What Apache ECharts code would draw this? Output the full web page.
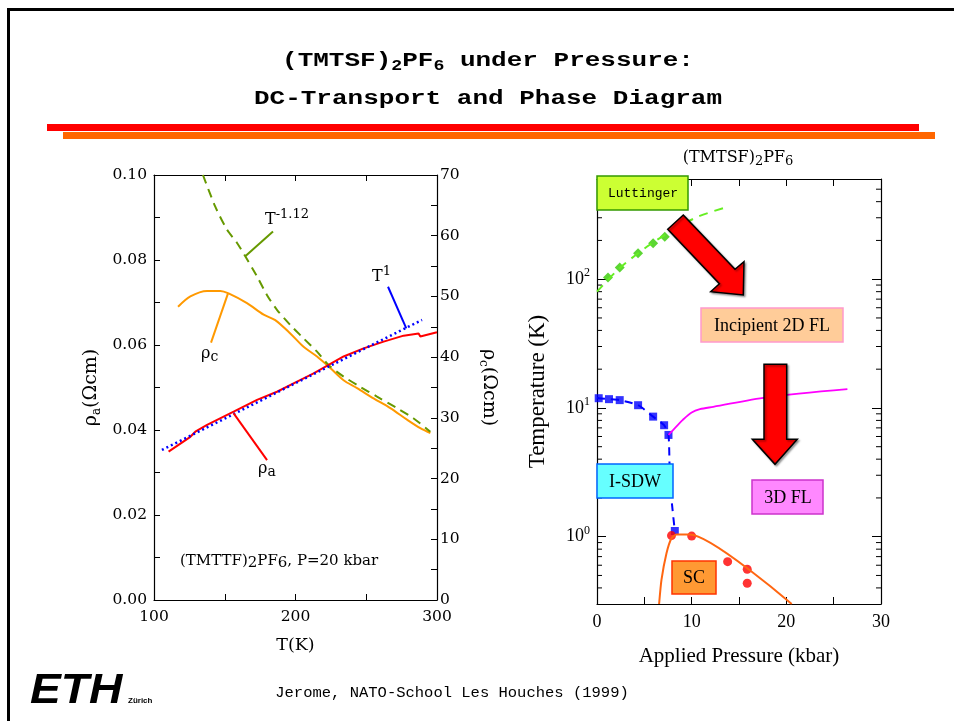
<!DOCTYPE html>
<html>
<head>
<meta charset="utf-8">
<script src="https://cdn.jsdelivr.net/npm/echarts@6/dist/echarts.min.js"></script>
<style>
html, body { margin: 0; padding: 0; background: #fff; }
#chart { width: 954px; height: 721px; }
</style>
</head>
<body>
<div id="chart"></div>
<script>
// ---- Left panel: DC resistivity of (TMTTF)2PF6 at 20 kbar ----
const tempRhoA = [110.3, 125.7, 129.2, 137.5, 156.3, 172.8, 186.9, 201.1, 212.8, 223.4, 234.0, 248.1, 262.3, 276.4, 287.0, 288.2, 289.5, 300.0];
const rhoA     = [0.0349, 0.0384, 0.0396, 0.0412, 0.0443, 0.0471, 0.0490, 0.0514, 0.0533, 0.0553, 0.0573, 0.0592, 0.0608, 0.0622, 0.0627, 0.0620, 0.0620, 0.0630];

const tempRhoC = [117, 125.7, 137.5, 146.9, 152.7, 165.7, 177.5, 185.7, 196.3, 205.7, 215.2, 224.6, 234.0, 243.5, 255.2, 267.0, 278.8, 288.2, 295.3];
const rhoC     = [48.3, 50.0, 50.9, 50.9, 50.5, 48.9, 47.0, 46.1, 43.9, 41.7, 40.1, 38.2, 36.2, 34.9, 33.2, 31.6, 29.7, 28.3, 27.5];

// power-law guide T^-1.12 (right axis)
const tempPow = [134.6, 143.3, 151.6, 158.7, 164.5, 172.8, 179.9, 186.9, 196.3, 205.7, 215.2, 223.4, 234.0, 245.8, 257.6, 271.7, 283.5, 295.3];
const rhoPow  = [70.0, 64.8, 61.0, 58.8, 56.6, 53.3, 50.2, 47.8, 45.3, 43.1, 40.9, 38.7, 36.8, 35.1, 33.5, 31.6, 29.9, 27.7];

// linear guide T^1 (left axis)
const tempLin = [105.6, 289.4];
const rhoLin  = [0.0353, 0.0659];

// ---- Right panel: phase diagram ----
const pLuttLine = [0, 2.4, 5.57, 8.75, 10.86, 13.7];
const tLuttLine = [80, 122, 185, 259, 310, 363];
const pLuttPts  = [1.16, 2.40, 4.34, 5.93, 7.16];
const tLuttPts  = [103, 123, 159, 190, 214];

const pSdwLine = [0, 0.18, 1.27, 2.40, 4.34, 5.93, 7.09, 7.55, 7.67, 7.88, 8.22];
const tSdwLine = [12.0, 11.9, 11.7, 11.5, 10.5, 8.56, 7.34, 6.17, 3.5, 1.93, 1.107];
const pSdwPts  = [0.18, 1.27, 2.40, 4.34, 5.93, 7.09, 7.55, 8.22];
const tSdwPts  = [11.9, 11.7, 11.5, 10.5, 8.56, 7.34, 6.17, 1.107];

const pCross = [7.55, 8.4, 9.06, 10.0, 10.87, 12.28, 17.9, 26.45];
const tCross = [6.17, 7.2, 8.07, 9.2, 9.77, 10.2, 12.1, 14.0];

const pScLine = [6.56, 6.81, 7.34, 7.87, 8.4, 9.81, 20.57];
const tScLine = [0.3, 0.461, 0.743, 0.972, 1.04, 1.04, 0.3];
const pScPts  = [7.87, 10.0, 13.8, 15.87, 15.87];
const tScPts  = [1.02, 1.01, 0.64, 0.558, 0.435];

// intermediate ticks of the logarithmic temperature axis
const logMinorTicks = [0.4, 0.5, 0.6, 0.7, 0.8, 0.9, 2, 3, 4, 5, 6, 7, 8, 9, 20, 30, 40, 50, 60, 70, 80, 90, 200, 300, 400, 500];

const zip = (a, b) => a.map((v, i) => [v, b[i]]);

const SERIF_A = 'DejaVu Serif';
const SERIF_B = 'Liberation Serif';
const MONO = 'Liberation Mono';

const tickStyle = (len) => ({ show: true, inside: true, length: len, lineStyle: { color: '#000', width: 1 } });
const axisLineStyle = { show: true, onZero: false, lineStyle: { color: '#000', width: 1.2 } };

const chart = echarts.init(document.getElementById('chart'), null, { renderer: 'canvas' });

const option = {
  animation: false,
  backgroundColor: '#fff',
  grid: [
    { left: 154, top: 175, width: 283, height: 425 },
    { left: 597, top: 179, width: 284, height: 425 }
  ],
  xAxis: [
    {
      gridIndex: 0, type: 'value', position: 'bottom', min: 100, max: 300, interval: 100,
      axisLine: axisLineStyle, axisTick: tickStyle(6),
      minorTick: { show: true, splitNumber: 2, length: 6, lineStyle: { color: '#000' } },
      splitLine: { show: false },
      axisLabel: { color: '#000', fontFamily: SERIF_A, fontSize: 15.5, margin: 9 },
      name: 'T(K)', nameLocation: 'middle', nameGap: 36,
      nameTextStyle: { color: '#000', fontFamily: SERIF_A, fontSize: 17.5 }
    },
    {
      gridIndex: 0, type: 'value', position: 'top', min: 100, max: 300, interval: 50,
      axisLine: axisLineStyle, axisTick: tickStyle(6),
      splitLine: { show: false }, axisLabel: { show: false }
    },
    {
      gridIndex: 1, type: 'value', position: 'bottom', min: 0, max: 30, interval: 10,
      axisLine: axisLineStyle, axisTick: tickStyle(7),
      minorTick: { show: true, splitNumber: 2, length: 7, lineStyle: { color: '#000' } },
      splitLine: { show: false },
      axisLabel: { color: '#000', fontFamily: SERIF_B, fontSize: 18, margin: 9 },
      name: 'Applied Pressure (kbar)', nameLocation: 'middle', nameGap: 42,
      nameTextStyle: { color: '#000', fontFamily: SERIF_B, fontSize: 21 }
    },
    {
      gridIndex: 1, type: 'value', position: 'top', min: 0, max: 30, interval: 10,
      axisLine: axisLineStyle, axisTick: tickStyle(7),
      minorTick: { show: true, splitNumber: 2, length: 7, lineStyle: { color: '#000' } },
      splitLine: { show: false }, axisLabel: { show: false }
    }
  ],
  yAxis: [
    {
      gridIndex: 0, type: 'value', position: 'left', min: 0, max: 0.1, interval: 0.02,
      axisLine: axisLineStyle, axisTick: tickStyle(6),
      minorTick: { show: true, splitNumber: 2, length: 6, lineStyle: { color: '#000' } },
      splitLine: { show: false },
      axisLabel: { color: '#000', fontFamily: SERIF_A, fontSize: 15.5, margin: 7, formatter: v => v.toFixed(2) },
      name: '{b|ρ}{s|a}{b|(Ωcm)}', nameLocation: 'middle', nameGap: 51, nameRotate: 90,
      nameTextStyle: {
        color: '#000', fontFamily: SERIF_A, fontSize: 19,
        rich: {
          b: { fontFamily: SERIF_A, fontSize: 19, lineHeight: 24 },
          s: { fontFamily: SERIF_A, fontSize: 12, lineHeight: 10, verticalAlign: 'bottom' }
        }
      }
    },
    {
      gridIndex: 0, type: 'value', position: 'right', min: 0, max: 70, interval: 10,
      axisLine: axisLineStyle, axisTick: tickStyle(6),
      minorTick: { show: true, splitNumber: 2, length: 6, lineStyle: { color: '#000' } },
      splitLine: { show: false },
      axisLabel: { color: '#000', fontFamily: SERIF_A, fontSize: 15.5, margin: 3 },
      name: '{b|ρ}{s|c}{b|(Ωcm)}', nameLocation: 'middle', nameGap: 40, nameRotate: -90,
      nameTextStyle: {
        color: '#000', fontFamily: SERIF_A, fontSize: 19,
        rich: {
          b: { fontFamily: SERIF_A, fontSize: 19, lineHeight: 24 },
          s: { fontFamily: SERIF_A, fontSize: 12, lineHeight: 10, verticalAlign: 'bottom' }
        }
      }
    },
    {
      gridIndex: 1, type: 'log', logBase: 10, position: 'left', min: 0.3, max: 600,
      axisLine: axisLineStyle, axisTick: tickStyle(9),
      splitLine: { show: false },
      axisLabel: {
        color: '#000', margin: 7,
        formatter: v => {
          const e = Math.round(Math.log10(v));
          return Math.abs(Math.log10(v) - e) < 1e-6 ? '{b|10}{sup|' + e + '}' : '';
        },
        rich: {
          b: { fontFamily: SERIF_B, fontSize: 18, lineHeight: 24 },
          sup: { fontFamily: SERIF_B, fontSize: 12, lineHeight: 14, verticalAlign: 'top' }
        }
      },
      name: 'Temperature (K)', nameLocation: 'middle', nameGap: 48, nameRotate: 90,
      nameTextStyle: { color: '#000', fontFamily: SERIF_B, fontSize: 23 }
    },
    {
      gridIndex: 1, type: 'log', logBase: 10, position: 'right', min: 0.3, max: 600,
      axisLine: axisLineStyle, axisTick: tickStyle(9),
      splitLine: { show: false }, axisLabel: { show: false }
    }
  ],
  series: [
    // left panel curves
    { type: 'line', xAxisIndex: 0, yAxisIndex: 1, data: zip(tempRhoC, rhoC), symbol: 'none', smooth: 0.3,
      lineStyle: { color: '#ff9900', width: 2 } },
    { type: 'line', xAxisIndex: 0, yAxisIndex: 1, data: zip(tempPow, rhoPow), symbol: 'none', smooth: 0.3,
      lineStyle: { color: '#669900', width: 2, type: [9, 6] } },
    { type: 'line', xAxisIndex: 0, yAxisIndex: 0, data: zip(tempRhoA, rhoA), symbol: 'none',
      lineStyle: { color: '#ff0000', width: 2 } },
    { type: 'line', xAxisIndex: 0, yAxisIndex: 0, data: zip(tempLin, rhoLin), symbol: 'none',
      lineStyle: { color: '#0000ff', width: 2.5, type: [2, 3] } },
    // leader lines from labels to curves
    { type: 'line', xAxisIndex: 0, yAxisIndex: 1, data: [[184.1, 60.7], [164.5, 56.6]], symbol: 'none',
      lineStyle: { color: '#669900', width: 2 } },
    { type: 'line', xAxisIndex: 0, yAxisIndex: 1, data: [[152.3, 50.5], [140.3, 42.4]], symbol: 'none',
      lineStyle: { color: '#ff9900', width: 2 } },
    { type: 'line', xAxisIndex: 0, yAxisIndex: 0, data: [[265.4, 0.0737], [278.3, 0.0639]], symbol: 'none',
      lineStyle: { color: '#0000ff', width: 2 } },
    { type: 'line', xAxisIndex: 0, yAxisIndex: 0, data: [[156.3, 0.0439], [179.9, 0.0329]], symbol: 'none',
      lineStyle: { color: '#ff0000', width: 2 } },

    // right panel: phase boundaries
    { type: 'line', xAxisIndex: 2, yAxisIndex: 2, data: zip(pLuttLine, tLuttLine), symbol: 'none', smooth: 0.3,
      lineStyle: { color: '#66ee22', width: 2, type: [9, 7] } },
    { type: 'scatter', xAxisIndex: 2, yAxisIndex: 2, data: zip(pLuttPts, tLuttPts), symbol: 'diamond', symbolSize: 10,
      itemStyle: { color: '#33cc00' } },
    { type: 'line', xAxisIndex: 2, yAxisIndex: 2, data: zip(pSdwLine, tSdwLine), symbol: 'none', smooth: 0.2,
      lineStyle: { color: '#0000ff', width: 2, type: [8, 6] } },
    { type: 'scatter', xAxisIndex: 2, yAxisIndex: 2, data: zip(pSdwPts, tSdwPts), symbol: 'rect', symbolSize: 8,
      itemStyle: { color: '#0000ff' } },
    { type: 'line', xAxisIndex: 2, yAxisIndex: 2, data: zip(pCross, tCross), symbol: 'none', smooth: 0.3,
      lineStyle: { color: '#ff00ff', width: 1.8 } },
    { type: 'line', xAxisIndex: 2, yAxisIndex: 2, data: zip(pScLine, tScLine), symbol: 'none', smooth: 0.2,
      lineStyle: { color: '#ff6611', width: 2 } },
    { type: 'scatter', xAxisIndex: 2, yAxisIndex: 2, data: zip(pScPts, tScPts), symbol: 'circle', symbolSize: 9,
      itemStyle: { color: '#ff0000' } },
    // logarithmic minor ticks on both vertical edges
    {
      type: 'custom', xAxisIndex: 2, yAxisIndex: 2, silent: true, clip: false,
      data: logMinorTicks.map(v => [0, v]),
      renderItem: (params, api) => {
        const cs = params.coordSys;
        const y = api.coord([0, api.value(1)])[1];
        return {
          type: 'group',
          children: [
            { type: 'line', shape: { x1: cs.x, y1: y, x2: cs.x + 5, y2: y }, style: { stroke: '#000', lineWidth: 1 } },
            { type: 'line', shape: { x1: cs.x + cs.width - 5, y1: y, x2: cs.x + cs.width, y2: y }, style: { stroke: '#000', lineWidth: 1 } }
          ]
        };
      }
    }
  ],
  graphic: {
    elements: [
      // slide frame
      { type: 'line', z: 100, shape: { x1: 7, y1: 9.5, x2: 954, y2: 9.5 }, style: { stroke: '#000', lineWidth: 3 } },
      { type: 'line', z: 100, shape: { x1: 8.5, y1: 8, x2: 8.5, y2: 721 }, style: { stroke: '#000', lineWidth: 3 } },
      // heading
      {
        type: 'text', z: 100, x: 488, y: 61, scaleX: 1.3,
        style: {
          text: '{b|(TMTSF)}{s|2}{b|PF}{s|6}{b| under Pressure:}',
          align: 'center', verticalAlign: 'middle', fill: '#000',
          rich: {
            b: { fontFamily: MONO, fontWeight: 'bold', fontSize: 20, lineHeight: 24 },
            s: { fontFamily: MONO, fontWeight: 'bold', fontSize: 14, lineHeight: 10, verticalAlign: 'bottom' }
          }
        }
      },
      {
        type: 'text', z: 100, x: 488, y: 99, scaleX: 1.3,
        style: { text: 'DC-Transport and Phase Diagram', align: 'center', verticalAlign: 'middle', fill: '#000',
          fontFamily: MONO, fontWeight: 'bold', fontSize: 20 }
      },
      // coloured rules under the heading
      { type: 'rect', z: 100, shape: { x: 47, y: 124, width: 872, height: 7 }, style: { fill: '#ff0000' } },
      { type: 'rect', z: 100, shape: { x: 63, y: 132, width: 872, height: 7 }, style: { fill: '#ff6600' } },

      // left panel annotations
      {
        type: 'text', z: 100, x: 265, y: 220,
        style: { text: '{b|T}{sup|-1.12}', align: 'left', verticalAlign: 'middle', fill: '#000',
          rich: {
            b: { fontFamily: SERIF_A, fontSize: 16, lineHeight: 24 },
            sup: { fontFamily: SERIF_A, fontSize: 13, lineHeight: 14, verticalAlign: 'top' }
          } }
      },
      {
        type: 'text', z: 100, x: 372, y: 277,
        style: { text: '{b|T}{sup|1}', align: 'left', verticalAlign: 'middle', fill: '#000',
          rich: {
            b: { fontFamily: SERIF_A, fontSize: 16, lineHeight: 24 },
            sup: { fontFamily: SERIF_A, fontSize: 13, lineHeight: 14, verticalAlign: 'top' }
          } }
      },
      {
        type: 'text', z: 100, x: 201, y: 354,
        style: { text: '{b|ρ}{s|c}', align: 'left', verticalAlign: 'middle', fill: '#000',
          rich: {
            b: { fontFamily: SERIF_A, fontSize: 16, lineHeight: 20 },
            s: { fontFamily: SERIF_A, fontSize: 14, lineHeight: 14, verticalAlign: 'bottom' }
          } }
      },
      {
        type: 'text', z: 100, x: 258, y: 469,
        style: { text: '{b|ρ}{s|a}', align: 'left', verticalAlign: 'middle', fill: '#000',
          rich: {
            b: { fontFamily: SERIF_A, fontSize: 16, lineHeight: 20 },
            s: { fontFamily: SERIF_A, fontSize: 14, lineHeight: 14, verticalAlign: 'bottom' }
          } }
      },
      {
        type: 'text', z: 100, x: 180, y: 561,
        style: { text: '{b|(TMTTF)}{s|2}{b|PF}{s|6}{b|, P=20 kbar}', align: 'left', verticalAlign: 'middle', fill: '#000',
          rich: {
            b: { fontFamily: SERIF_A, fontSize: 15, lineHeight: 20 },
            s: { fontFamily: SERIF_A, fontSize: 15, lineHeight: 12, verticalAlign: 'bottom' }
          } }
      },

      // right panel title
      {
        type: 'text', z: 100, x: 738, y: 158,
        style: { text: '{b|(TMTSF)}{s|2}{b|PF}{s|6}', align: 'center', verticalAlign: 'middle', fill: '#000',
          rich: {
            b: { fontFamily: SERIF_A, fontSize: 16, lineHeight: 20 },
            s: { fontFamily: SERIF_A, fontSize: 13, lineHeight: 10, verticalAlign: 'bottom' }
          } }
      },

      // arrows
      {
        type: 'polygon', z: 100,
        shape: { points: [[683.3, 215], [735, 269.3], [744, 261.7], [743.3, 295], [710.7, 291.7], [719.4, 283.8], [667.7, 229.3]] },
        style: { fill: '#ff0000', stroke: '#000', lineWidth: 1.5, shadowColor: 'rgba(0,0,0,0.35)', shadowBlur: 2, shadowOffsetX: 1.5, shadowOffsetY: 1.5 }
      },
      {
        type: 'polygon', z: 100,
        shape: { points: [[764, 364.3], [786.7, 364.3], [786.7, 439.3], [797.3, 439.3], [775, 464.3], [752.3, 439.3], [764, 439.3]] },
        style: { fill: '#ff0000', stroke: '#000', lineWidth: 1.5, shadowColor: 'rgba(0,0,0,0.35)', shadowBlur: 2, shadowOffsetX: 1.5, shadowOffsetY: 1.5 }
      },

      // phase labels
      { type: 'rect', z: 101, shape: { x: 597, y: 176, width: 91, height: 34 }, style: { fill: '#ccff33', stroke: '#339900', lineWidth: 1.5 } },
      { type: 'text', z: 102, x: 643, y: 194, style: { text: 'Luttinger', align: 'center', verticalAlign: 'middle', fill: '#000', fontFamily: MONO, fontSize: 13 } },

      { type: 'rect', z: 101, shape: { x: 701, y: 308, width: 142, height: 34 }, style: { fill: '#ffcc99', stroke: '#ff99cc', lineWidth: 1.5 } },
      { type: 'text', z: 102, x: 772, y: 326, style: { text: 'Incipient 2D FL', align: 'center', verticalAlign: 'middle', fill: '#000', fontFamily: SERIF_B, fontSize: 18 } },

      { type: 'rect', z: 101, shape: { x: 597, y: 464, width: 76, height: 34 }, style: { fill: '#66ffff', stroke: '#0066ff', lineWidth: 1.5 } },
      { type: 'text', z: 102, x: 635, y: 482, style: { text: 'I-SDW', align: 'center', verticalAlign: 'middle', fill: '#000', fontFamily: SERIF_B, fontSize: 18 } },

      { type: 'rect', z: 101, shape: { x: 752, y: 480, width: 71, height: 34 }, style: { fill: '#ff88ff', stroke: '#cc33cc', lineWidth: 1.5 } },
      { type: 'text', z: 102, x: 788, y: 498, style: { text: '3D FL', align: 'center', verticalAlign: 'middle', fill: '#000', fontFamily: SERIF_B, fontSize: 18 } },

      { type: 'rect', z: 101, shape: { x: 672, y: 561, width: 44, height: 33 }, style: { fill: '#ff9933', stroke: '#ff3300', lineWidth: 1.5 } },
      { type: 'text', z: 102, x: 694, y: 578, style: { text: 'SC', align: 'center', verticalAlign: 'middle', fill: '#000', fontFamily: SERIF_B, fontSize: 18 } },

      // footer
      {
        type: 'text', z: 100, x: 30, y: 691, scaleX: 1.1,
        style: { text: 'ETH', align: 'left', verticalAlign: 'middle', fill: '#000',
          fontFamily: 'Liberation Sans', fontWeight: 'bold', fontStyle: 'italic', fontSize: 42 }
      },
      {
        type: 'text', z: 100, x: 128, y: 701,
        style: { text: 'Zürich', align: 'left', verticalAlign: 'middle', fill: '#000',
          fontFamily: 'Liberation Sans', fontWeight: 'bold', fontSize: 8 }
      },
      {
        type: 'text', z: 100, x: 452, y: 693,
        style: { text: 'Jerome, NATO-School Les Houches (1999)', align: 'center', verticalAlign: 'middle', fill: '#000',
          fontFamily: MONO, fontSize: 15.5 }
      }
    ]
  }
};

chart.setOption(option);
</script>
</body>
</html>
